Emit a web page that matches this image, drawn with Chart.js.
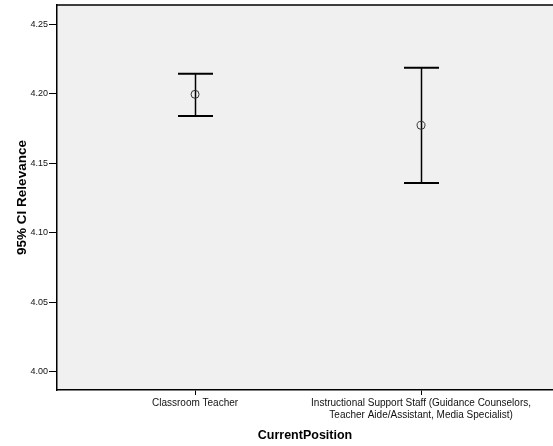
<!DOCTYPE html>
<html>
<head>
<meta charset="utf-8">
<script src="https://cdn.jsdelivr.net/npm/chart.js@4/dist/chart.umd.min.js"></script>
<style>
  html, body { margin: 0; padding: 0; background: #ffffff; }
  #wrap { width: 553px; height: 446px; }
</style>
</head>
<body>
<div id="wrap"><canvas id="c" width="553" height="446"></canvas></div>
<script>
// Group labels (multi-line where the label wraps)
const categories = [
  ['Classroom Teacher'],
  ['Instructional Support Staff (Guidance Counselors,', 'Teacher Aide/Assistant, Media Specialist)']
];
// Mean relevance and 95% confidence interval bounds per group
const means = [4.1995, 4.1772];
const ciLower = [4.1839, 4.1358];
const ciUpper = [4.2143, 4.2186];
// Value axis tick labels
const yTicks = [4.00, 4.05, 4.10, 4.15, 4.20, 4.25];

const FONT = 'Arial, "Liberation Sans", sans-serif';

// Plot panel fill and top frame line
const panelPlugin = {
  id: 'panel',
  beforeDraw(chart) {
    const { ctx, chartArea: a } = chart;
    ctx.save();
    ctx.fillStyle = '#f0f0f0';
    ctx.fillRect(a.left, a.top, a.right - a.left, a.bottom - a.top);
    ctx.restore();
  },
  afterDraw(chart) {
    const { ctx, chartArea: a } = chart;
    ctx.save();
    ctx.strokeStyle = '#000';
    ctx.lineWidth = 1.5;
    ctx.beginPath();
    ctx.moveTo(a.left, a.top);
    ctx.lineTo(a.right, a.top);
    ctx.stroke();
    ctx.restore();
  }
};

// Vertical CI whiskers with horizontal caps
const errorBarPlugin = {
  id: 'errorBars',
  beforeDatasetsDraw(chart) {
    const { ctx, scales: { x, y } } = chart;
    const capHalf = 17.5;
    ctx.save();
    ctx.strokeStyle = '#000';
    for (let i = 0; i < means.length; i++) {
      const px = Math.round(x.getPixelForValue(i)) + 0.5;
      const yLo = y.getPixelForValue(ciLower[i]);
      const yHi = y.getPixelForValue(ciUpper[i]);
      ctx.lineWidth = 1.5;
      ctx.beginPath();
      ctx.moveTo(px, yHi);
      ctx.lineTo(px, yLo);
      ctx.stroke();
      ctx.lineWidth = 2;
      ctx.beginPath();
      ctx.moveTo(px - capHalf, yHi);
      ctx.lineTo(px + capHalf, yHi);
      ctx.moveTo(px - capHalf, yLo);
      ctx.lineTo(px + capHalf, yLo);
      ctx.stroke();
    }
    ctx.restore();
  }
};

new Chart(document.getElementById('c'), {
  type: 'scatter',
  data: {
    datasets: [{
      data: means.map((m, i) => ({ x: i, y: m })),
      pointStyle: 'circle',
      pointRadius: 4,
      pointHoverRadius: 4,
      borderColor: '#333',
      borderWidth: 1,
      backgroundColor: 'rgba(0,0,0,0)'
    }]
  },
  options: {
    responsive: false,
    animation: false,
    events: [],
    layout: { autoPadding: false, padding: { top: 5, right: 0, left: 0, bottom: 0 } },
    plugins: { legend: { display: false }, tooltip: { enabled: false } },
    scales: {
      x: {
        type: 'linear',
        min: -0.611,
        max: 1.584,
        afterBuildTicks(scale) {
          scale.ticks = categories.map((_, i) => ({ value: i }));
        },
        afterFit(scale) {
          scale.height = 56;
          scale.paddingLeft = 0;
          scale.paddingRight = 0;
        },
        ticks: {
          autoSkip: false,
          maxRotation: 0,
          minRotation: 0,
          padding: 2,
          color: '#111',
          font: { family: FONT, size: 10 },
          callback: (v) => categories[v]
        },
        grid: { drawOnChartArea: false, drawTicks: true, tickLength: 5, color: '#000', tickColor: '#000' },
        border: { display: true, color: '#000', width: 1.5 },
        title: {
          display: true,
          text: 'CurrentPosition',
          color: '#000',
          font: { family: FONT, size: 12.5, weight: 'bold' },
          padding: { top: 0, bottom: 2.5 }
        }
      },
      y: {
        type: 'linear',
        min: 3.987,
        max: 4.2637,
        afterBuildTicks(scale) {
          scale.ticks = yTicks.map(v => ({ value: v }));
        },
        afterFit(scale) {
          scale.width = 57;
          scale.paddingTop = 0;
          scale.paddingBottom = 0;
        },
        ticks: {
          padding: 1,
          color: '#111',
          font: { family: FONT, size: 9 },
          callback: (v) => Number(v).toFixed(2)
        },
        grid: { drawOnChartArea: false, drawTicks: true, tickLength: 8, color: '#000', tickColor: '#000' },
        border: { display: true, color: '#000', width: 1.5 },
        title: {
          display: true,
          text: '95% CI Relevance',
          color: '#000',
          font: { family: FONT, size: 13.5, weight: 'bold' },
          padding: { top: 14, bottom: 0 }
        }
      }
    }
  },
  plugins: [panelPlugin, errorBarPlugin]
});
</script>
</body>
</html>
